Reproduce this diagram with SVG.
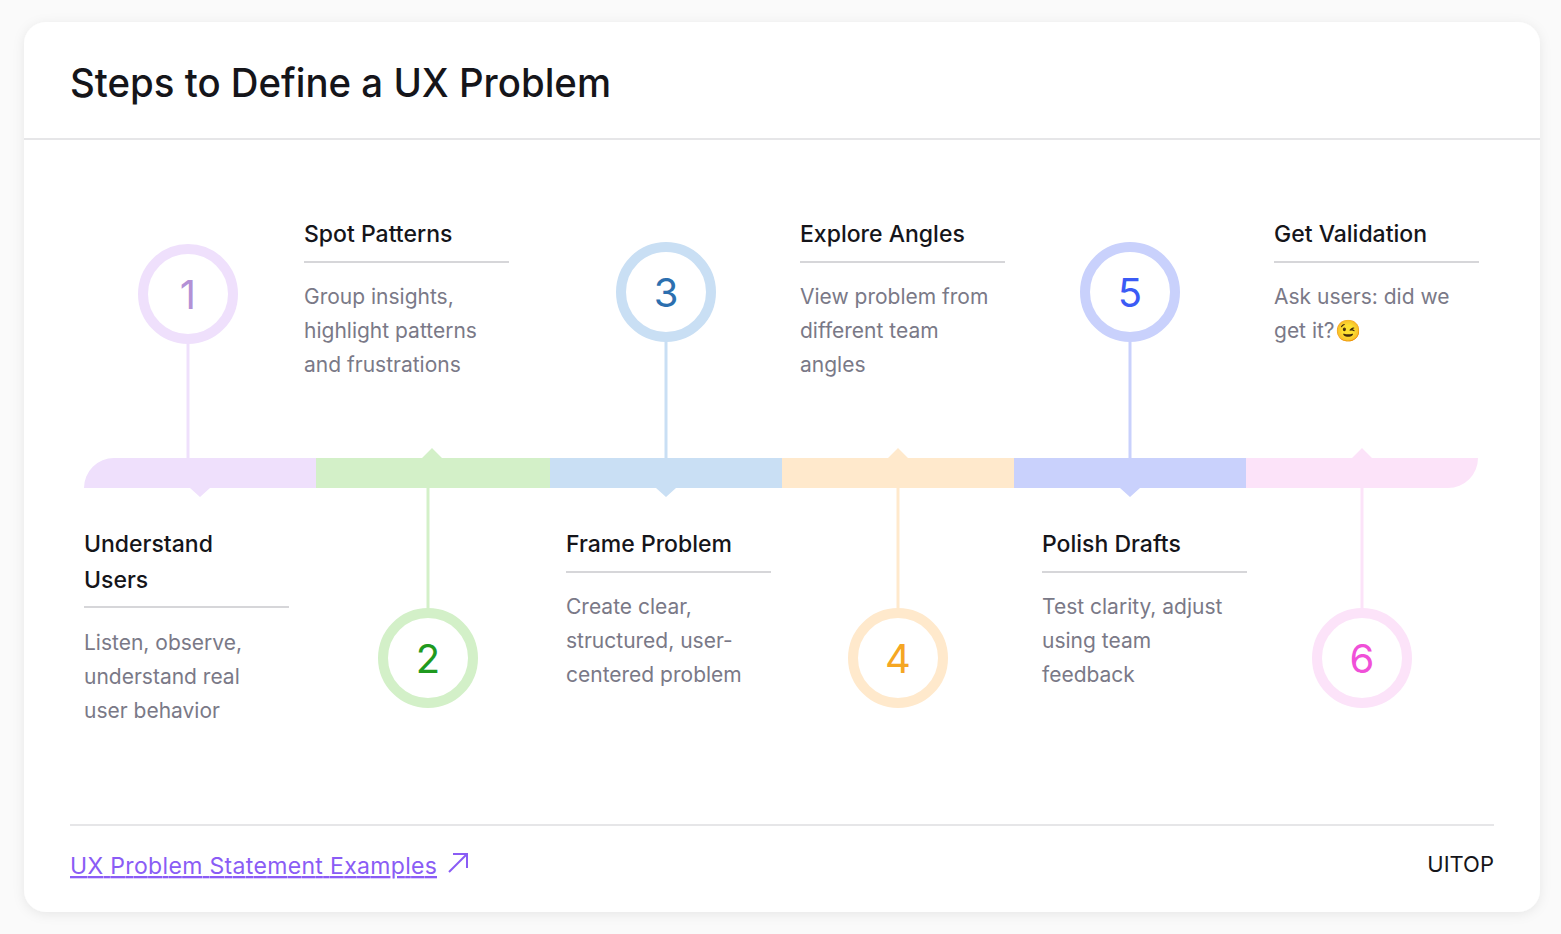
<svg xmlns="http://www.w3.org/2000/svg" width="1561" height="934" viewBox="0 0 1561 934">
<defs>
<filter id="sh" x="-5%" y="-5%" width="110%" height="110%"><feDropShadow dx="0" dy="2" stdDeviation="6" flood-color="#000" flood-opacity="0.08"/></filter>
<style>
text{font-family:Inter,"Noto Sans","Liberation Sans",sans-serif}
.h{font-size:23px;fill:#15151a;font-weight:500}
.d{font-size:21px;fill:#7a7987}
.n{font-size:40px;text-anchor:middle}
.rule{stroke:#d6d6d9;stroke-width:2}
</style>
</defs>
<rect width="1561" height="934" fill="#fafafa"/>
<rect x="24" y="22" width="1516" height="890" rx="22" fill="#fff" filter="url(#sh)"/>
<text x="70" y="97" font-size="39" fill="#15151a" font-weight="500" textLength="541" lengthAdjust="spacingAndGlyphs">Steps to Define a UX Problem</text>
<line x1="24" y1="139" x2="1540" y2="139" stroke="#e6e6e8" stroke-width="2"/>
<g id="connectors">
<line x1="188" y1="340" x2="188" y2="460" stroke="#efe0fc" stroke-width="3"/>
<line x1="428" y1="486" x2="428" y2="612" stroke="#d3f0c8" stroke-width="3"/>
<line x1="666" y1="340" x2="666" y2="460" stroke="#c9dff4" stroke-width="3"/>
<line x1="898" y1="486" x2="898" y2="612" stroke="#ffe9cc" stroke-width="3"/>
<line x1="1130" y1="340" x2="1130" y2="460" stroke="#c9d1fc" stroke-width="3"/>
<line x1="1362" y1="486" x2="1362" y2="612" stroke="#fce3f9" stroke-width="3"/>
</g>
<g id="bar">
<path d="M84 488 A30 30 0 0 1 114 458 H316 V488 H210 L200 497 L190 488 Z" fill="#efe0fc"/>
<path d="M316 458 H422 L432 448 L442 458 H550 V488 H316 Z" fill="#d3f0c8"/>
<path d="M550 458 H782 V488 H676 L666 497 L656 488 H550 Z" fill="#c9dff4"/>
<path d="M782 458 H888 L898 448 L908 458 H1014 V488 H782 Z" fill="#ffe9cc"/>
<path d="M1014 458 H1246 V488 H1140 L1130 497 L1120 488 H1014 Z" fill="#c9d1fc"/>
<path d="M1246 458 H1352 L1362 448 L1372 458 H1478 A30 30 0 0 1 1448 488 H1246 Z" fill="#fce3f9"/>
</g>
<g id="step1">
<circle cx="188" cy="294" r="45" fill="#fff" stroke="#efe0fc" stroke-width="10"/>
<text class="n" x="188" y="309" fill="#b391d6">1</text>
<text class="h" x="84" y="552">Understand</text><text class="h" x="84" y="588">Users</text>
<line class="rule" x1="84" y1="607" x2="289" y2="607"/>
<text class="d" x="84" y="650">Listen, observe,</text><text class="d" x="84" y="684">understand real</text><text class="d" x="84" y="718">user behavior</text>
</g>
<g id="step2">
<circle cx="428" cy="658" r="45" fill="#fff" stroke="#d3f0c8" stroke-width="10"/>
<text class="n" x="428" y="673" fill="#1f9a1f">2</text>
<text class="h" x="304" y="242">Spot Patterns</text>
<line class="rule" x1="304" y1="262" x2="509" y2="262"/>
<text class="d" x="304" y="304">Group insights,</text><text class="d" x="304" y="338">highlight patterns</text><text class="d" x="304" y="372">and frustrations</text>
</g>
<g id="step3">
<circle cx="666" cy="292" r="45" fill="#fff" stroke="#c9dff4" stroke-width="10"/>
<text class="n" x="666" y="307" fill="#2c6faf">3</text>
<text class="h" x="566" y="552">Frame Problem</text>
<line class="rule" x1="566" y1="572" x2="771" y2="572"/>
<text class="d" x="566" y="614">Create clear,</text><text class="d" x="566" y="648">structured, user-</text><text class="d" x="566" y="682">centered problem</text>
</g>
<g id="step4">
<circle cx="898" cy="658" r="45" fill="#fff" stroke="#ffe9cc" stroke-width="10"/>
<text class="n" x="898" y="673" fill="#f5a623">4</text>
<text class="h" x="800" y="242">Explore Angles</text>
<line class="rule" x1="800" y1="262" x2="1005" y2="262"/>
<text class="d" x="800" y="304">View problem from</text><text class="d" x="800" y="338">different team</text><text class="d" x="800" y="372">angles</text>
</g>
<g id="step5">
<circle cx="1130" cy="292" r="45" fill="#fff" stroke="#c9d1fc" stroke-width="10"/>
<text class="n" x="1130" y="307" fill="#3b5bf5">5</text>
<text class="h" x="1042" y="552">Polish Drafts</text>
<line class="rule" x1="1042" y1="572" x2="1247" y2="572"/>
<text class="d" x="1042" y="614">Test clarity, adjust</text><text class="d" x="1042" y="648">using team</text><text class="d" x="1042" y="682">feedback</text>
</g>
<g id="step6">
<circle cx="1362" cy="658" r="45" fill="#fff" stroke="#fce3f9" stroke-width="10"/>
<text class="n" x="1362" y="673" fill="#f050d8">6</text>
<text class="h" x="1274" y="242">Get Validation</text>
<line class="rule" x1="1274" y1="262" x2="1479" y2="262"/>
<text class="d" x="1274" y="304">Ask users: did we</text><text class="d" x="1274" y="338">get it?😉</text>
</g>
<line x1="70" y1="825" x2="1494" y2="825" stroke="#e6e6e8" stroke-width="2"/>
<g id="footer">
<text x="70" y="874" font-size="23" fill="#8a5cf5" text-decoration="underline" textLength="367">UX Problem Statement Examples</text>
<path d="M449 872 L467 854 M453 854 H467 V868" fill="none" stroke="#8a5cf5" stroke-width="2"/>
<text x="1494" y="872" font-size="22" fill="#15151a" text-anchor="end">UITOP</text>
</g>
</svg>
